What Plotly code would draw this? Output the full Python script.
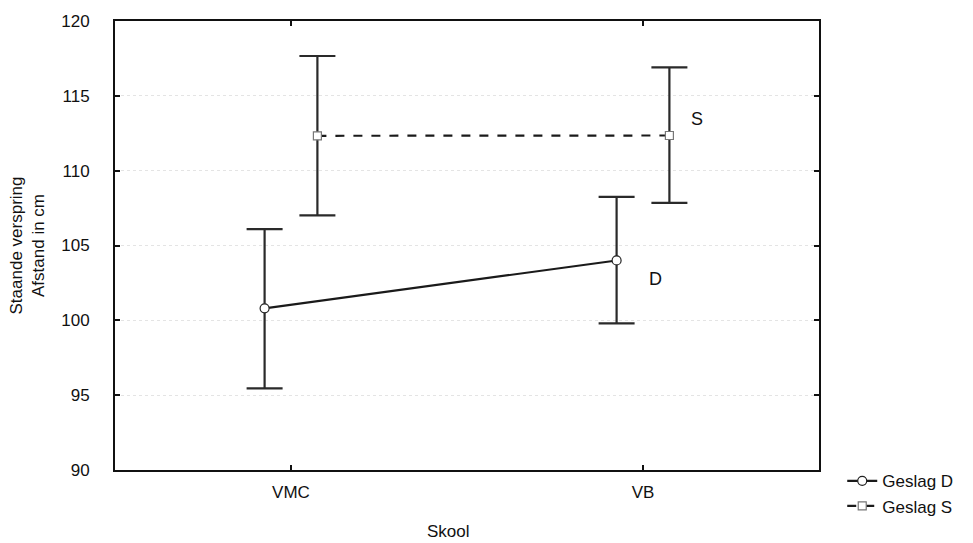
import plotly.graph_objects as go

schools = ["VMC", "VB"]
school_pos = [0, 1]
offset_d = -0.075
offset_s = 0.075

d_mean = [100.8, 104.0]
d_upper = [106.1, 108.25]
d_lower = [95.45, 99.8]

s_mean = [112.33, 112.35]
s_upper = [117.66, 116.9]
s_lower = [107.01, 107.85]

y_ticks = [90, 95, 100, 105, 110, 115, 120]

FONT = "Liberation Sans, Arial, sans-serif"

fig = go.Figure()

def add_series(name, means, up, lo, off, dash, symbol, msize, mline):
    xs = [p + off for p in school_pos]
    fig.add_trace(go.Scatter(
        x=xs, y=means, name=name, mode="lines+markers",
        line=dict(color="#1a1a1a", width=2.2, dash=dash),
        marker=dict(symbol=symbol, size=msize, color="white",
                    line=dict(color=mline, width=1.2)),
        error_y=dict(type="data", symmetric=False,
                     array=[u - m for u, m in zip(up, means)],
                     arrayminus=[m - l for m, l in zip(means, lo)],
                     color="#2a2a2a", thickness=2.2, width=18),
    ))

add_series("Geslag D", d_mean, d_upper, d_lower, offset_d, "solid", "circle", 9, "#222")
add_series("Geslag S", s_mean, s_upper, s_lower, offset_s, "dash", "square", 8, "#777")

fig.add_annotation(x=school_pos[1] + offset_s, y=s_mean[1], text="S", showarrow=False,
                   xanchor="left", xshift=20, yshift=17, font=dict(size=18, color="#111", family=FONT))
fig.add_annotation(x=school_pos[1] + offset_d, y=d_mean[1], text="D", showarrow=False,
                   xanchor="left", xshift=30, yshift=-19, font=dict(size=18, color="#111", family=FONT))

fig.add_annotation(x=0.474, y=0, xref="paper", yref="paper", yanchor="top",
                   text="Skool", showarrow=False, yshift=-50,
                   font=dict(size=17, color="#111", family=FONT))

fig.update_layout(
    width=973, height=543,
    margin=dict(l=115, r=154, t=19, b=73),
    paper_bgcolor="white", plot_bgcolor="white",
    font=dict(family=FONT, size=17, color="#111"),
    showlegend=True,
    legend=dict(x=1.033, y=0.015, xanchor="left", yanchor="top",
                font=dict(size=17, family=FONT), itemwidth=30,
                bgcolor="rgba(0,0,0,0)", tracegroupgap=0),
)

fig.update_xaxes(
    range=[-0.5, 1.5], tickvals=school_pos, ticktext=schools,
    showline=True, linecolor="#111", linewidth=2, mirror="ticks",
    ticks="inside", ticklen=5, tickcolor="#111", tickwidth=1.5,
    showgrid=False, zeroline=False,
    ticklabelstandoff=6,
)
fig.update_yaxes(
    range=[90, 120], tickvals=y_ticks,
    showline=True, linecolor="#111", linewidth=2, mirror="ticks",
    ticks="inside", ticklen=5, tickcolor="#111", tickwidth=1.5,
    showgrid=True, gridcolor="#e4e4e4", griddash="dot", gridwidth=1,
    zeroline=False,
    title=dict(text="Staande verspring<br>Afstand in cm", standoff=12, font=dict(size=17)),
    ticklabelstandoff=20,
)

fig.write_html("out.html")
